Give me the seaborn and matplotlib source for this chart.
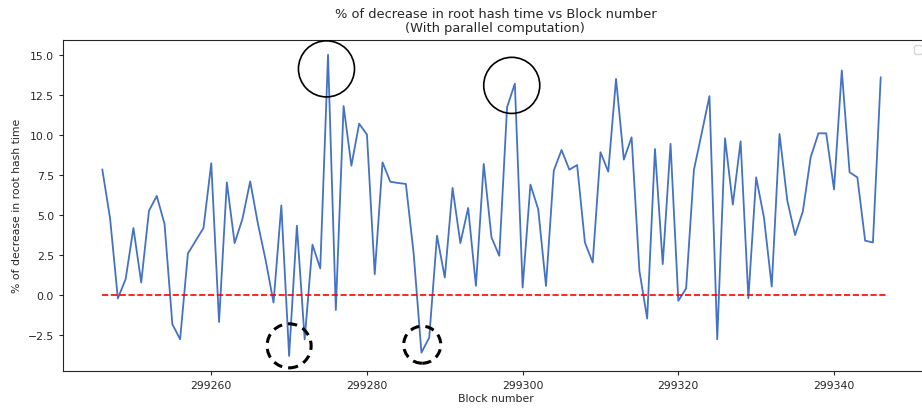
import numpy as np
import pandas as pd
import matplotlib.pyplot as plt
import seaborn as sns
from matplotlib.patches import Ellipse

sns.set_style("ticks")
plt.rcParams['font.family'] = ['DejaVu Sans']

# block numbers 299246 .. 299346
BLOCK_START = 299246
pct_decrease = [
    7.85, 4.8, -0.2, 1.0, 4.19, 0.79, 5.27, 6.19, 4.44, -1.81,
    -2.75, 2.6, 3.4, 4.19, 8.23, -1.67, 7.04, 3.25, 4.75, 7.1,
    4.44, 2.15, -0.46, 5.6, -3.79, 4.33, -2.75, 3.15, 1.67, 15.0,
    -0.92, 11.8, 8.08, 10.7, 10.02, 1.31, 8.29, 7.08, 7.0, 6.94,
    2.6, -3.58, -2.65, 3.71, 1.1, 6.69, 3.25, 5.44, 0.58, 8.19,
    3.6, 2.46, 11.73, 13.2, 0.48, 6.9, 5.37, 0.58, 7.77, 9.06,
    7.83, 8.12, 3.29, 2.04, 8.92, 7.71, 13.5, 8.46, 9.85, 1.52,
    -1.46, 9.12, 1.94, 9.44, -0.35, 0.42, 7.81, 10.1, 12.42, -2.75,
    9.79, 5.65, 9.6, -0.19, 7.35, 4.85, 0.54, 10.06, 5.9, 3.75,
    5.23, 8.6, 10.1, 10.1, 6.6, 14.02, 7.67, 7.35, 3.4, 3.29,
    13.6,
]
blocks = np.arange(BLOCK_START, BLOCK_START + len(pct_decrease))

# highlighted regions: (x, y, width, height, linestyle, linewidth)
highlights = [
    (299274.8, 14.12, 7.2, 3.5, '-', 1.2),
    (299298.6, 13.09, 7.2, 3.5, '-', 1.2),
    (299270.0, -3.16, 5.66, 2.75, (0, (3, 2)), 2.2),
    (299287.1, -3.09, 4.76, 2.31, (0, (3, 2)), 2.2),
]

df = pd.DataFrame({'block': blocks, 'pct': pct_decrease})

fig = plt.figure(figsize=(9.22, 4.10), dpi=100)
ax = fig.add_axes([0.0683, 0.0927, 0.938, 0.808])

sns.lineplot(data=df, x='block', y='pct', ax=ax, color='#4472C4', linewidth=1.3)
ax.hlines(0, blocks[0], blocks[-1] + 1, colors='red', linestyles='dashed', linewidth=1.2)

# circles drawn as plain artists so they do not change the autoscaled limits
for x, y, w, h, ls, lw in highlights:
    ax.add_artist(Ellipse((x, y), w, h, fill=False, edgecolor='black',
                          linestyle=ls, linewidth=lw, clip_on=False, zorder=5))

ax.set_title("% of decrease in root hash time vs Block number\n(With parallel computation)",
             fontsize=9.4, linespacing=1.15)
ax.set_xlabel("Block number", fontsize=7.8, labelpad=2)
ax.set_ylabel("% of decrease in root hash time", fontsize=7.8)
ax.tick_params(labelsize=7.8, length=3)
ax.set_xticks([299260, 299280, 299300, 299320, 299340])
ax.set_yticks([-2.5, 0, 2.5, 5, 7.5, 10, 12.5, 15])
ax.set_yticklabels(['−2.5', '0.0', '2.5', '5.0', '7.5', '10.0', '12.5', '15.0'])
ax.legend(handles=[], labels=[], loc='upper right', fontsize=7.8)

fig.savefig("out.png", dpi=100)
